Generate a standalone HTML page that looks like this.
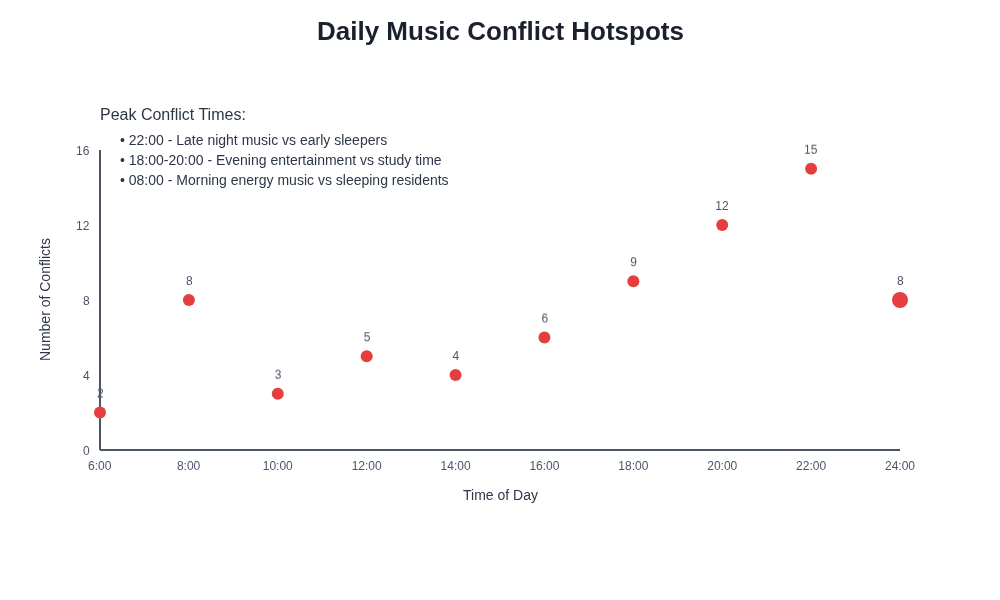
<!DOCTYPE html>
<html><head><meta charset="utf-8"><title>Daily Music Conflict Hotspots</title>
<style>
html,body{margin:0;padding:0;background:#fff;}
svg{display:block;will-change:transform;font-family:"Liberation Sans",sans-serif;}
</style></head><body>
<svg width="1000" height="600" viewBox="0 0 1000 600">
<rect width="1000" height="600" fill="#ffffff"/>
<defs>
<filter id="s25" x="-50%" y="-50%" width="200%" height="200%" color-interpolation-filters="sRGB"><feOffset dy="1" result="o"/><feComposite in="SourceGraphic" in2="o" operator="arithmetic" k1="0" k2="0.75" k3="0.25" k4="0"/></filter>
<filter id="s50" x="-50%" y="-50%" width="200%" height="200%" color-interpolation-filters="sRGB"><feOffset dy="1" result="o"/><feComposite in="SourceGraphic" in2="o" operator="arithmetic" k1="0" k2="0.5" k3="0.5" k4="0"/></filter>
<filter id="s75" x="-50%" y="-50%" width="200%" height="200%" color-interpolation-filters="sRGB"><feOffset dy="1" result="o"/><feComposite in="SourceGraphic" in2="o" operator="arithmetic" k1="0" k2="0.25" k3="0.75" k4="0"/></filter>
</defs>
<text x="317" y="40" font-size="26" font-weight="bold" fill="#1a202c">Daily Music Conflict Hotspots</text>
<text x="100" y="120" font-size="16" fill="#2d3748">Peak Conflict Times:</text>
<text x="120" y="145" font-size="14" fill="#2d3748">• 22:00 - Late night music vs early sleepers</text>
<text x="120" y="165" font-size="14" fill="#2d3748">• 18:00-20:00 - Evening entertainment vs study time</text>
<text x="120" y="185" font-size="14" fill="#2d3748">• 08:00 - Morning energy music vs sleeping residents</text>
<line x1="100" y1="450" x2="900" y2="450" stroke="#4a5568" stroke-width="2"/>
<line x1="100" y1="150" x2="100" y2="450" stroke="#4a5568" stroke-width="2"/>
<g font-size="12" fill="#4a5568">
<text x="83" y="455">0</text>
<text x="83" y="380">4</text>
<text x="83" y="305">8</text>
<text x="76" y="230">12</text>
<text x="76" y="155">16</text>
<text x="88" y="470">6:00</text>
<text x="176.89" y="470">8:00</text>
<text x="262.78" y="470">10:00</text>
<text x="351.67" y="470">12:00</text>
<text x="440.56" y="470">14:00</text>
<text x="529.44" y="470">16:00</text>
<text x="618.33" y="470">18:00</text>
<text x="707.22" y="470">20:00</text>
<text x="796.11" y="470">22:00</text>
<text x="885" y="470">24:00</text>
</g>
<circle cx="100" cy="412.5" r="6" fill="#e53e3e"/>
<text x="97" y="397" font-size="12" fill="#4a5568" filter="url(#s50)">2</text>
<circle cx="188.89" cy="300" r="6" fill="#e53e3e"/>
<text x="185.89" y="285" font-size="12" fill="#4a5568">8</text>
<circle cx="277.78" cy="393.75" r="6" fill="#e53e3e"/>
<text x="274.78" y="378" font-size="12" fill="#4a5568" filter="url(#s75)">3</text>
<circle cx="366.67" cy="356.25" r="6" fill="#e53e3e"/>
<text x="363.67" y="341" font-size="12" fill="#4a5568" filter="url(#s25)">5</text>
<circle cx="455.56" cy="375" r="6" fill="#e53e3e"/>
<text x="452.56" y="360" font-size="12" fill="#4a5568">4</text>
<circle cx="544.44" cy="337.5" r="6" fill="#e53e3e"/>
<text x="541.44" y="322" font-size="12" fill="#4a5568" filter="url(#s50)">6</text>
<circle cx="633.33" cy="281.25" r="6" fill="#e53e3e"/>
<text x="630.33" y="266" font-size="12" fill="#4a5568" filter="url(#s25)">9</text>
<circle cx="722.22" cy="225" r="6" fill="#e53e3e"/>
<text x="715.22" y="210" font-size="12" fill="#4a5568">12</text>
<circle cx="811.11" cy="168.75" r="6" fill="#e53e3e"/>
<text x="804.11" y="153" font-size="12" fill="#4a5568" filter="url(#s75)">15</text>
<circle cx="900" cy="300" r="8" fill="#e53e3e"/>
<text x="897" y="285" font-size="12" fill="#4a5568">8</text>
<text x="463" y="500" font-size="14" fill="#2d3748">Time of Day</text>
<text transform="translate(50,300) rotate(-90)" x="-61" y="0" font-size="14" fill="#2d3748">Number of Conflicts</text>
</svg></body></html>
